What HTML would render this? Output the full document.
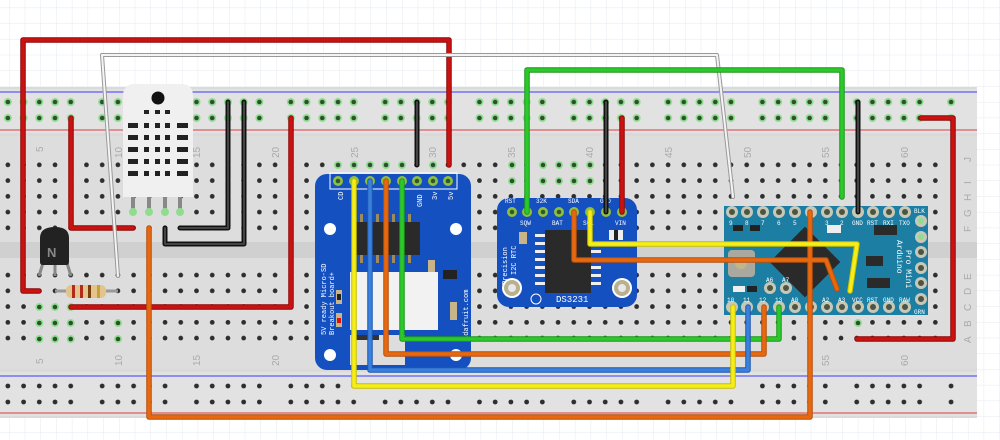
<!DOCTYPE html>
<html><head><meta charset="utf-8"><style>
html,body{margin:0;padding:0;background:#fff;}
svg{display:block;font-family:"Liberation Sans",sans-serif;}
</style></head><body>
<svg width="1000" height="440" viewBox="0 0 1000 440" xmlns="http://www.w3.org/2000/svg">
<defs>
<pattern id="grid" x="9" y="7.6" width="15.72" height="15.72" patternUnits="userSpaceOnUse">
<path d="M0 0H15.72M0 0V15.72" stroke="#e4eaf1" stroke-width="1" fill="none"/>
</pattern>
<pattern id="holes" x="31.44" y="157" width="15.72" height="15.75" patternUnits="userSpaceOnUse">
<circle cx="7.86" cy="7.87" r="3.2" fill="#e8e8e8"/><circle cx="7.86" cy="7.87" r="2.4" fill="#2e2e2e"/>
</pattern>
<pattern id="railG" x="0" y="94" width="94.32" height="16" patternUnits="userSpaceOnUse">
<g fill="#8fde8f"><circle cx="7.86" cy="8" r="4"/><circle cx="23.58" cy="8" r="4"/><circle cx="39.3" cy="8" r="4"/><circle cx="55.02" cy="8" r="4"/><circle cx="70.74" cy="8" r="4"/></g>
<g fill="#2f4f2f"><circle cx="7.86" cy="8" r="2.3"/><circle cx="23.58" cy="8" r="2.3"/><circle cx="39.3" cy="8" r="2.3"/><circle cx="55.02" cy="8" r="2.3"/><circle cx="70.74" cy="8" r="2.3"/></g>
</pattern>
<pattern id="railK" x="0" y="378" width="94.32" height="16" patternUnits="userSpaceOnUse">
<g fill="#2e2e2e"><circle cx="7.86" cy="8" r="2.4"/><circle cx="23.58" cy="8" r="2.4"/><circle cx="39.3" cy="8" r="2.4"/><circle cx="55.02" cy="8" r="2.4"/><circle cx="70.74" cy="8" r="2.4"/></g>
</pattern>
</defs>
<rect width="1000" height="440" fill="#fff"/>
<rect width="1000" height="440" fill="url(#grid)"/>

<!-- breadboard -->
<rect x="0" y="87" width="977" height="331" fill="#dadada"/>
<rect x="0" y="89" width="977" height="44" fill="#e2e2e2"/>
<rect x="0" y="372" width="977" height="44" fill="#e2e2e2"/>
<rect x="0" y="136" width="977" height="233" fill="#dddddd"/>
<rect x="0" y="242" width="977" height="16" fill="#d0d0d0"/>
<line x1="0" y1="92" x2="977" y2="92" stroke="#3a3aff" stroke-width="1"/>
<line x1="0" y1="130" x2="977" y2="130" stroke="#e03a3a" stroke-width="1"/>
<line x1="0" y1="376" x2="977" y2="376" stroke="#3a3aff" stroke-width="1"/>
<line x1="0" y1="413" x2="977" y2="413" stroke="#e03a3a" stroke-width="1"/>
<rect x="0" y="94" width="960" height="32" fill="url(#railG)"/>
<rect x="0" y="378" width="960" height="32" fill="url(#railK)"/>
<rect x="0" y="157" width="945" height="79" fill="url(#holes)"/>
<rect x="0" y="268" width="945" height="79" fill="url(#holes)" transform="translate(0,0)"/>

<!-- green highlighted holes -->
<g fill="#8fde8f">
<circle cx="39.3" cy="307" r="4"/><circle cx="55" cy="307" r="4"/><circle cx="70.7" cy="307" r="4"/>
<circle cx="39.3" cy="323" r="4"/><circle cx="55" cy="323" r="4"/><circle cx="70.7" cy="323" r="4"/>
<circle cx="39.3" cy="339" r="4"/><circle cx="55" cy="339" r="4"/><circle cx="70.7" cy="339" r="4"/>
<circle cx="118" cy="323" r="4"/><circle cx="118" cy="339" r="4"/>
<circle cx="338" cy="165" r="4"/><circle cx="354" cy="165" r="4"/><circle cx="370" cy="165" r="4"/><circle cx="386" cy="165" r="4"/><circle cx="402" cy="165" r="4"/><circle cx="433" cy="165" r="4"/>
<circle cx="512" cy="165" r="4"/><circle cx="543" cy="165" r="4"/><circle cx="559" cy="165" r="4"/><circle cx="574" cy="165" r="4"/><circle cx="590" cy="165" r="4"/>
<circle cx="512" cy="181" r="4"/><circle cx="543" cy="181" r="4"/><circle cx="559" cy="181" r="4"/><circle cx="574" cy="181" r="4"/><circle cx="590" cy="181" r="4"/>
<circle cx="858" cy="323" r="4"/>
</g>
<g fill="#2f4f2f">
<circle cx="39.3" cy="307" r="2.3"/><circle cx="55" cy="307" r="2.3"/><circle cx="70.7" cy="307" r="2.3"/>
<circle cx="39.3" cy="323" r="2.3"/><circle cx="55" cy="323" r="2.3"/><circle cx="70.7" cy="323" r="2.3"/>
<circle cx="39.3" cy="339" r="2.3"/><circle cx="55" cy="339" r="2.3"/><circle cx="70.7" cy="339" r="2.3"/>
<circle cx="118" cy="323" r="2.3"/><circle cx="118" cy="339" r="2.3"/>
<circle cx="338" cy="165" r="2.3"/><circle cx="354" cy="165" r="2.3"/><circle cx="370" cy="165" r="2.3"/><circle cx="386" cy="165" r="2.3"/><circle cx="402" cy="165" r="2.3"/><circle cx="433" cy="165" r="2.3"/>
<circle cx="512" cy="165" r="2.3"/><circle cx="543" cy="165" r="2.3"/><circle cx="559" cy="165" r="2.3"/><circle cx="574" cy="165" r="2.3"/><circle cx="590" cy="165" r="2.3"/>
<circle cx="512" cy="181" r="2.3"/><circle cx="543" cy="181" r="2.3"/><circle cx="559" cy="181" r="2.3"/><circle cx="574" cy="181" r="2.3"/><circle cx="590" cy="181" r="2.3"/>
<circle cx="858" cy="323" r="2.3"/>
</g>

<!-- column numbers -->
<g fill="#aaaaaa" font-size="10">
<text transform="translate(43,152) rotate(-90)">5</text>
<text transform="translate(122,158) rotate(-90)">10</text>
<text transform="translate(200,158) rotate(-90)">15</text>
<text transform="translate(279,158) rotate(-90)">20</text>
<text transform="translate(358,158) rotate(-90)">25</text>
<text transform="translate(436,158) rotate(-90)">30</text>
<text transform="translate(515,158) rotate(-90)">35</text>
<text transform="translate(593,158) rotate(-90)">40</text>
<text transform="translate(672,158) rotate(-90)">45</text>
<text transform="translate(751,158) rotate(-90)">50</text>
<text transform="translate(829,158) rotate(-90)">55</text>
<text transform="translate(908,158) rotate(-90)">60</text>
<text transform="translate(43,364) rotate(-90)">5</text>
<text transform="translate(122,366) rotate(-90)">10</text>
<text transform="translate(200,366) rotate(-90)">15</text>
<text transform="translate(279,366) rotate(-90)">20</text>
<text transform="translate(829,366) rotate(-90)">55</text>
<text transform="translate(908,366) rotate(-90)">60</text>
<text transform="translate(971,162) rotate(-90)">J</text>
<text transform="translate(971,184) rotate(-90)">I</text>
<text transform="translate(971,201) rotate(-90)">H</text>
<text transform="translate(971,217) rotate(-90)">G</text>
<text transform="translate(971,232) rotate(-90)">F</text>
<text transform="translate(971,280) rotate(-90)">E</text>
<text transform="translate(971,295) rotate(-90)">D</text>
<text transform="translate(971,311) rotate(-90)">C</text>
<text transform="translate(971,327) rotate(-90)">B</text>
<text transform="translate(971,343) rotate(-90)">A</text>
</g>

<!-- DHT22 -->
<g>
<rect x="131" y="197" width="4" height="15" fill="#888"/><rect x="147" y="197" width="4" height="15" fill="#888"/><rect x="163" y="197" width="4" height="15" fill="#888"/><rect x="178" y="197" width="4" height="15" fill="#888"/>
<g fill="#8fde8f"><circle cx="133" cy="212" r="4"/><circle cx="149" cy="212" r="4"/><circle cx="165" cy="212" r="4"/><circle cx="180" cy="212" r="4"/></g>
<path d="M123 197 V96 Q123 84 135 84 H181 Q193 84 193 96 V197 Z" fill="#f0f0f0"/>
<circle cx="158" cy="98" r="6.5" fill="#111"/>
<g fill="#222">
<rect x="144" y="110" width="5" height="4"/><rect x="155" y="110" width="5" height="4"/><rect x="165" y="110" width="5" height="4"/>
<rect x="128" y="123" width="10" height="5"/><rect x="144" y="123" width="5" height="5"/><rect x="155" y="123" width="5" height="5"/><rect x="165" y="123" width="5" height="5"/><rect x="177" y="123" width="11" height="5"/>
<rect x="128" y="135" width="10" height="5"/><rect x="144" y="135" width="5" height="5"/><rect x="155" y="135" width="5" height="5"/><rect x="165" y="135" width="5" height="5"/><rect x="177" y="135" width="11" height="5"/>
<rect x="128" y="147" width="10" height="5"/><rect x="144" y="147" width="5" height="5"/><rect x="155" y="147" width="5" height="5"/><rect x="165" y="147" width="5" height="5"/><rect x="177" y="147" width="11" height="5"/>
<rect x="128" y="159" width="10" height="5"/><rect x="144" y="159" width="5" height="5"/><rect x="155" y="159" width="5" height="5"/><rect x="165" y="159" width="5" height="5"/><rect x="177" y="159" width="11" height="5"/>
<rect x="128" y="171" width="10" height="5"/><rect x="144" y="171" width="5" height="5"/><rect x="155" y="171" width="5" height="5"/><rect x="165" y="171" width="5" height="5"/><rect x="177" y="171" width="11" height="5"/>
</g>
</g>

<!-- transistor -->
<g>
<path d="M47 250 L39 276 M55 254 V276 M63 250 L71 276" stroke="#888" stroke-width="3"/>
<path d="M40 245 V238 Q40 227 55 227 Q69 227 69 238 V262 Q69 265 66 265 H43 Q40 265 40 262 Z" fill="#222"/>
<text x="47" y="257" font-size="13" font-weight="bold" fill="#888">N</text>
</g>
<!-- resistor -->
<g>
<line x1="55" y1="291" x2="118" y2="291" stroke="#999" stroke-width="3"/>
<rect x="66" y="285" width="40" height="13" rx="5" fill="#e3c48a"/>
<rect x="72" y="285" width="3" height="13" fill="#b5281e"/><rect x="80" y="285" width="3" height="13" fill="#b5281e"/><rect x="88" y="285" width="3" height="13" fill="#7a3d10"/><rect x="97" y="285" width="3" height="13" fill="#c9a032"/>
</g>

<!-- SD board -->
<g>
<rect x="315" y="174" width="156" height="196" rx="12" fill="#1450c0"/>
<rect x="330" y="173" width="127" height="16" fill="none" stroke="#fff" stroke-width="1"/>
<g fill="#8fbf3f"><circle cx="338" cy="181" r="5"/><circle cx="354" cy="181" r="5"/><circle cx="370" cy="181" r="5"/><circle cx="386" cy="181" r="5"/><circle cx="402" cy="181" r="5"/><circle cx="417" cy="181" r="5"/><circle cx="433" cy="181" r="5"/><circle cx="448" cy="181" r="5"/></g>
<g fill="#2d5a2d"><circle cx="338" cy="181" r="2.3"/><circle cx="417" cy="181" r="2.3"/><circle cx="433" cy="181" r="2.3"/><circle cx="448" cy="181" r="2.3"/></g>
<g fill="#fff" font-size="7" font-family="Liberation Mono,monospace">
<text transform="translate(343,200) rotate(-90)">CD</text>
<text transform="translate(422,207) rotate(-90)">GND</text>
<text transform="translate(437,200) rotate(-90)">3v</text>
<text transform="translate(453,200) rotate(-90)">5v</text>
<text transform="translate(326,335) rotate(-90)">5V ready Micro-SD</text>
<text transform="translate(334,335) rotate(-90)">Breakout board+</text>
<text transform="translate(468,340) rotate(-90)">adafruit.com</text>
</g>
<g fill="#fff"><circle cx="330" cy="229" r="6"/><circle cx="456" cy="229" r="6"/><circle cx="330" cy="355" r="6"/><circle cx="456" cy="355" r="6"/></g>
<rect x="356" y="222" width="64" height="33" fill="#2a2a2a"/>
<g fill="#a08a5a"><rect x="360" y="214" width="3" height="8"/><rect x="368" y="214" width="3" height="8"/><rect x="376" y="214" width="3" height="8"/><rect x="384" y="214" width="3" height="8"/><rect x="392" y="214" width="3" height="8"/><rect x="400" y="214" width="3" height="8"/><rect x="408" y="214" width="3" height="8"/>
<rect x="360" y="255" width="3" height="8"/><rect x="368" y="255" width="3" height="8"/><rect x="376" y="255" width="3" height="8"/><rect x="384" y="255" width="3" height="8"/><rect x="392" y="255" width="3" height="8"/><rect x="400" y="255" width="3" height="8"/><rect x="408" y="255" width="3" height="8"/></g>
<rect x="350" y="272" width="88" height="58" fill="#f2f2f2"/>
<rect x="350" y="335" width="55" height="30" fill="#ddd"/>
<rect x="354" y="335" width="25" height="5" fill="#333"/>
<rect x="428" y="260" width="7" height="12" fill="#c9b48a"/>
<rect x="443" y="270" width="14" height="9" fill="#222"/>
<rect x="450" y="302" width="7" height="18" fill="#c9b48a"/>
<rect x="336" y="290" width="6" height="14" fill="#c9b48a"/><rect x="337" y="294" width="4" height="6" fill="#222"/>
<rect x="336" y="313" width="6" height="14" fill="#c9b48a"/><rect x="337" y="318" width="4" height="5" fill="#e01010"/>
</g>

<!-- RTC board -->
<g>
<rect x="497" y="198" width="140" height="109" rx="12" fill="#1450c0"/>
<g fill="#8fbf3f"><circle cx="512" cy="212" r="5"/><circle cx="527" cy="212" r="5"/><circle cx="543" cy="212" r="5"/><circle cx="559" cy="212" r="5"/><circle cx="574" cy="212" r="5"/><circle cx="590" cy="212" r="5"/><circle cx="606" cy="212" r="5"/><circle cx="622" cy="212" r="5"/></g>
<g fill="#2d5a2d"><circle cx="512" cy="212" r="2.3"/><circle cx="543" cy="212" r="2.3"/><circle cx="559" cy="212" r="2.3"/></g>
<g fill="#fff" font-size="6" font-family="Liberation Mono,monospace">
<text x="505" y="203">RST</text><text x="536" y="203">32K</text><text x="568" y="203">SDA</text><text x="600" y="203">GND</text>
<text x="520" y="225">SQW</text><text x="552" y="225">BAT</text><text x="583" y="225">SCL</text><text x="615" y="225">VIN</text>
<text transform="translate(507,285) rotate(-90)" font-size="7">Precision</text>
<text transform="translate(516,275) rotate(-90)" font-size="7">I2C RTC</text>
<text x="556" y="302" font-size="9">DS3231</text>
</g>
<rect x="545" y="230" width="46" height="63" fill="#2a2a2a"/>
<g fill="#eee"><rect x="535" y="234" width="10" height="3"/><rect x="535" y="242" width="10" height="3"/><rect x="535" y="250" width="10" height="3"/><rect x="535" y="258" width="10" height="3"/><rect x="535" y="266" width="10" height="3"/><rect x="535" y="274" width="10" height="3"/><rect x="535" y="282" width="10" height="3"/>
<rect x="591" y="250" width="10" height="3"/><rect x="591" y="258" width="10" height="3"/><rect x="591" y="266" width="10" height="3"/><rect x="591" y="274" width="10" height="3"/><rect x="591" y="282" width="10" height="3"/></g>
<rect x="519" y="232" width="8" height="12" fill="#c9b48a"/>
<rect x="609" y="230" width="14" height="10" fill="#eee"/><rect x="614" y="230" width="4" height="10" fill="#222"/>
<circle cx="512" cy="288" r="10" fill="#fff"/><circle cx="512" cy="288" r="8" fill="#b9b090"/><circle cx="512" cy="288" r="4" fill="#e8e8e8"/>
<circle cx="622" cy="288" r="10" fill="#fff"/><circle cx="622" cy="288" r="8" fill="#b9b090"/><circle cx="622" cy="288" r="4" fill="#e8e8e8"/>
<circle cx="536" cy="299" r="5" fill="none" stroke="#fff" stroke-width="1"/>
</g>

<!-- Arduino Pro Mini -->
<g>
<rect x="724" y="206" width="204" height="109" fill="#1d7ea3"/>
<rect x="780" y="237" width="50" height="50" fill="#2a2a2a" transform="rotate(45 805 262)"/>
<rect x="728" y="250" width="27" height="27" rx="4" fill="#a9a9a0"/><circle cx="741" cy="263" r="6" fill="#c4b48a"/>
<rect x="733" y="225" width="10" height="6" fill="#222"/><rect x="750" y="225" width="10" height="6" fill="#222"/>
<rect x="827" y="225" width="14" height="8" fill="#eee"/>
<rect x="874" y="225" width="23" height="10" fill="#2a2a2a"/>
<rect x="867" y="278" width="23" height="10" fill="#2a2a2a"/>
<rect x="866" y="256" width="17" height="10" fill="#2a2a2a"/>
<rect x="733" y="286" width="12" height="6" fill="#eee"/><rect x="747" y="286" width="10" height="6" fill="#222"/>
<g fill="#c8c8b8">
<circle cx="732" cy="212" r="6"/><circle cx="747" cy="212" r="6"/><circle cx="763" cy="212" r="6"/><circle cx="779" cy="212" r="6"/><circle cx="795" cy="212" r="6"/><circle cx="811" cy="212" r="6"/><circle cx="827" cy="212" r="6"/><circle cx="842" cy="212" r="6"/><circle cx="858" cy="212" r="6"/><circle cx="873" cy="212" r="6"/><circle cx="889" cy="212" r="6"/><circle cx="905" cy="212" r="6"/>
<circle cx="732" cy="307" r="6"/><circle cx="747" cy="307" r="6"/><circle cx="763" cy="307" r="6"/><circle cx="779" cy="307" r="6"/><circle cx="795" cy="307" r="6"/><circle cx="811" cy="307" r="6"/><circle cx="827" cy="307" r="6"/><circle cx="842" cy="307" r="6"/><circle cx="858" cy="307" r="6"/><circle cx="873" cy="307" r="6"/><circle cx="889" cy="307" r="6"/><circle cx="905" cy="307" r="6"/>
<circle cx="921" cy="221" r="6"/><circle cx="921" cy="237" r="6"/><circle cx="921" cy="252" r="6"/><circle cx="921" cy="268" r="6"/><circle cx="921" cy="283" r="6"/><circle cx="921" cy="299" r="6"/>
<circle cx="770" cy="288" r="6"/><circle cx="786" cy="288" r="6"/>
</g>
<g fill="#4d5540">
<circle cx="732" cy="212" r="3"/><circle cx="747" cy="212" r="3"/><circle cx="763" cy="212" r="3"/><circle cx="779" cy="212" r="3"/><circle cx="795" cy="212" r="3"/><circle cx="827" cy="212" r="3"/><circle cx="842" cy="212" r="3"/><circle cx="873" cy="212" r="3"/><circle cx="889" cy="212" r="3"/><circle cx="905" cy="212" r="3"/>
<circle cx="795" cy="307" r="3"/><circle cx="811" cy="307" r="3"/><circle cx="827" cy="307" r="3"/><circle cx="842" cy="307" r="3"/><circle cx="858" cy="307" r="3"/><circle cx="873" cy="307" r="3"/><circle cx="889" cy="307" r="3"/><circle cx="905" cy="307" r="3"/>
<circle cx="921" cy="252" r="3"/><circle cx="921" cy="268" r="3"/><circle cx="921" cy="283" r="3"/><circle cx="921" cy="299" r="3"/>
<circle cx="770" cy="288" r="3"/><circle cx="786" cy="288" r="3"/>
</g>
<g fill="#8fde8f"><circle cx="921" cy="221" r="3"/><circle cx="921" cy="237" r="3"/></g>
<g fill="#fff" font-size="6" font-family="Liberation Mono,monospace">
<text x="729" y="225">9</text><text x="745" y="225">8</text><text x="761" y="225">7</text><text x="777" y="225">6</text><text x="793" y="225">5</text><text x="825" y="225">3</text><text x="840" y="225">2</text><text x="852" y="225">GND</text><text x="867" y="225">RST</text><text x="883" y="225">RXI</text><text x="899" y="225">TXO</text>
<text x="727" y="302">10</text><text x="743" y="302">11</text><text x="759" y="302">12</text><text x="775" y="302">13</text><text x="791" y="302">A0</text><text x="822" y="302">A2</text><text x="838" y="302">A3</text><text x="852" y="302">VCC</text><text x="867" y="302">RST</text><text x="883" y="302">GND</text><text x="899" y="302">RAW</text>
<text x="766" y="282">A6</text><text x="782" y="282">A7</text>
<text x="914" y="213">BLK</text><text x="914" y="314">GRN</text>
<text transform="translate(897,240) rotate(90)" font-size="8">Arduino</text>
<text transform="translate(906,250) rotate(90)" font-size="8">Pro Mini</text>
</g>
</g>

<!-- wires -->
<g fill="none" stroke-linejoin="round" stroke-linecap="round">
<g stroke="#8c0a0a" stroke-width="5.5">
<polyline points="39,291 23,291 23,40 449,40 449,165"/>
<polyline points="133,228 71,228 71,118"/>
<polyline points="291,118 291,307 71,307"/>
<polyline points="622,118 622,212"/>
<polyline points="921,118 953,118 953,339 857,339"/>
</g>
<g stroke="#cc1111" stroke-width="3.5">
<polyline points="39,291 23,291 23,40 449,40 449,165"/>
<polyline points="133,228 71,228 71,118"/>
<polyline points="291,118 291,307 71,307"/>
<polyline points="622,118 622,212"/>
<polyline points="921,118 953,118 953,339 857,339"/>
</g>
<g stroke="#999" stroke-width="4">
<polyline points="118,276 102,55 717,55 733,197"/>
</g>
<g stroke="#f4f4f4" stroke-width="2">
<polyline points="118,276 102,55 717,55 733,197"/>
</g>
<g stroke="#111" stroke-width="5">
<polyline points="228,102 228,228 180,228"/>
<polyline points="244,102 244,244 165,244 165,228"/>
<polyline points="417,102 417,165"/>
<polyline points="606,102 606,212"/>
<polyline points="858,102 858,212"/>
</g>
<g stroke="#444" stroke-width="2">
<polyline points="228,102 228,228 180,228"/>
<polyline points="244,102 244,244 165,244 165,228"/>
<polyline points="417,102 417,165"/>
<polyline points="606,102 606,212"/>
<polyline points="858,102 858,212"/>
</g>
<g stroke="#1a9a1a" stroke-width="5.5">
<polyline points="527,212 527,70 842,70 842,197"/>
<polyline points="402,181 402,339 779,339 779,307"/>
</g>
<g stroke="#2cc82c" stroke-width="3.5">
<polyline points="527,212 527,70 842,70 842,197"/>
<polyline points="402,181 402,339 779,339 779,307"/>
</g>
<g stroke="#b55010" stroke-width="5.5">
<polyline points="149,228 149,417 810,417 810,212"/>
<polyline points="386,181 386,354 764,354 764,307"/>
<polyline points="574,212 574,260 826,260 837,289"/>
</g>
<g stroke="#e8680e" stroke-width="3.5">
<polyline points="149,228 149,417 810,417 810,212"/>
<polyline points="386,181 386,354 764,354 764,307"/>
<polyline points="574,212 574,260 826,260 837,289"/>
</g>
<g stroke="#1f58b0" stroke-width="5.5"><polyline points="370,181 370,370 748,370 748,307"/></g>
<g stroke="#3a80dd" stroke-width="3.5"><polyline points="370,181 370,370 748,370 748,307"/></g>
<g stroke="#c8c000" stroke-width="5.5">
<polyline points="354,181 354,386 733,386 733,307"/>
<polyline points="590,212 590,244 857,244 850,291"/>
</g>
<g stroke="#f6ee1a" stroke-width="3.5">
<polyline points="354,181 354,386 733,386 733,307"/>
<polyline points="590,212 590,244 857,244 850,291"/>
</g>
</g>
</svg>
</body></html>
